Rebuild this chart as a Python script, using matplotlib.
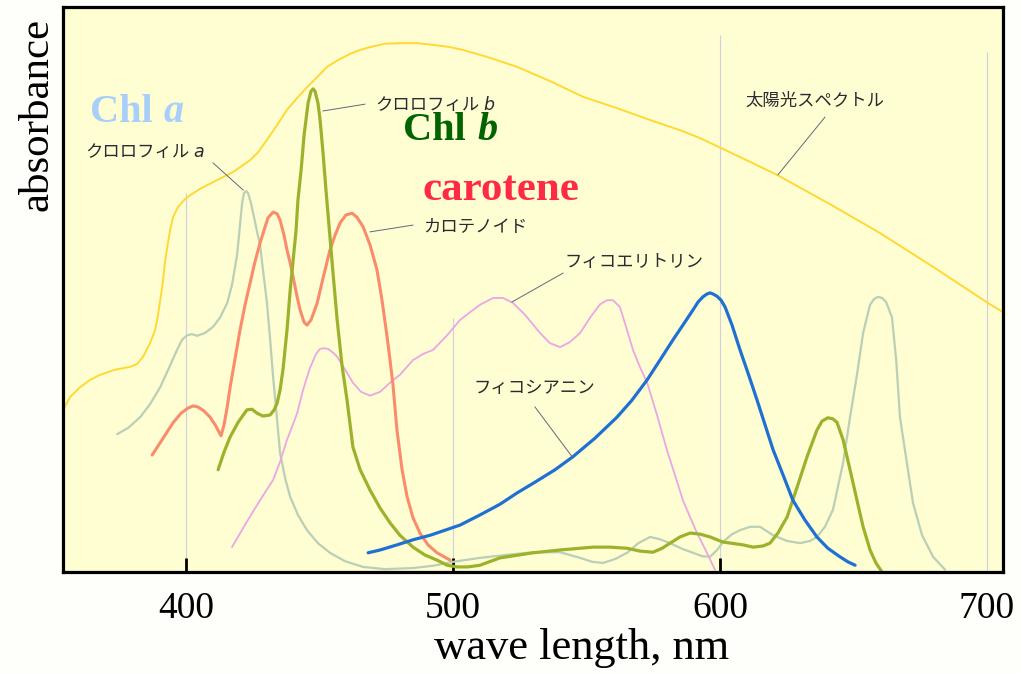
import matplotlib
matplotlib.use('Agg')
import matplotlib.pyplot as plt

plt.rcParams['font.family'] = ['Liberation Serif', 'DejaVu Serif']
JP = ['Noto Sans CJK JP', 'DejaVu Sans']

# wavelength (nm) and relative absorbance (0-100)

sun_wl = [353.9, 356.6, 360.3, 364.0, 367.8, 373.4, 379.0, 381.6, 383.9, 386.5, 388.4,
          389.5, 390.6, 391.4, 392.1, 392.9, 394.0, 395.1, 397.0, 399.6, 402.2, 405.2,
          410.1, 413.9, 417.6, 421.3, 424.0, 427.0, 430.3, 434.1, 437.8, 441.6, 445.3,
          449.1, 452.8, 456.9, 461.4, 465.2, 468.9, 474.5, 480.1, 486.5, 492.5, 498.9,
          503.7, 513.9, 524.0, 536.3, 548.7, 561.4, 573.8, 585.0, 592.5, 601.9, 611.2,
          621.3, 641.2, 659.9, 680.5, 700.4, 706.0]
sun_ab = [28.7, 31.0, 32.7, 34.0, 34.9, 35.8, 36.3, 36.8, 38.1, 40.5, 42.8,
          45.5, 49.0, 51.7, 54.9, 57.3, 60.5, 62.8, 64.6, 66.0, 66.9, 67.8,
          69.0, 69.9, 70.8, 72.0, 72.9, 74.3, 76.5, 79.1, 81.8, 83.9, 85.8,
          87.6, 89.4, 90.6, 91.7, 92.4, 92.9, 93.5, 93.6, 93.6, 93.3, 92.9,
          92.4, 91.0, 89.4, 86.9, 84.1, 82.1, 80.0, 78.2, 76.8, 74.7, 72.6,
          70.3, 65.1, 60.0, 53.8, 47.6, 46.0]

chla_wl = [374.2, 378.3, 382.8, 386.5, 390.3, 393.3, 396.6, 398.5, 400.4, 402.2, 404.1,
           407.1, 410.1, 412.7, 415.4, 417.2, 419.1, 420.2, 421.0, 421.7, 422.5, 423.2,
           424.3, 425.5, 426.6, 427.7, 428.8, 430.3, 431.5, 432.6, 434.1, 435.2, 437.1,
           439.0, 441.9, 445.3, 449.4, 453.9, 459.6, 466.3, 474.5, 485.0, 492.5, 500.0,
           510.1, 519.5, 530.0, 540.1, 543.8, 547.6, 552.1, 556.2, 560.7, 565.2, 569.4,
           573.8, 577.5, 581.3, 585.8, 589.9, 593.3, 596.3, 598.9, 601.1, 604.5, 607.5,
           611.2, 615.0, 619.9, 625.1, 630.0, 633.7, 636.3, 639.3, 642.3, 646.1, 648.7,
           651.3, 653.6, 656.2, 657.7, 659.2, 660.7, 662.2, 664.4, 666.0, 667.4, 670.0,
           672.3, 675.7, 679.8, 684.3]
chla_ab = [24.4, 25.5, 27.4, 29.7, 32.7, 35.8, 39.3, 41.1, 41.9, 42.1, 41.8,
           42.3, 43.4, 45.0, 47.6, 50.8, 56.1, 61.4, 65.3, 67.1, 67.4, 67.1,
           65.3, 62.7, 60.2, 57.9, 53.5, 47.6, 41.1, 34.5, 26.9, 21.1, 16.6,
           13.3, 10.1, 7.4, 5.1, 3.4, 1.9, 0.9, 0.5, 0.7, 1.1, 1.8,
           2.5, 3.0, 3.5, 3.5, 3.0, 2.5, 1.8, 1.6, 2.3, 3.4, 5.1,
           6.2, 5.8, 5.1, 4.1, 3.4, 2.8, 2.7, 3.9, 5.3, 6.7, 7.4,
           8.0, 8.0, 6.5, 5.5, 5.1, 5.5, 6.2, 8.0, 11.0, 19.3, 27.4,
           34.9, 42.3, 47.3, 48.3, 48.7, 48.5, 47.8, 45.1, 37.5, 27.4, 19.3,
           12.2, 6.5, 2.7, 0.4]

chlb_wl = [412.0, 414.2, 416.5, 419.5, 422.8, 424.7, 426.6, 428.8, 431.5, 433.0, 434.1,
           435.2, 436.3, 437.8, 439.0, 440.1, 441.2, 441.9, 443.1, 444.2, 445.7, 446.8,
           447.6, 448.3, 449.4, 450.2, 451.3, 452.4, 453.9, 455.1, 456.6, 458.4, 460.3,
           462.5, 465.2, 468.9, 472.7, 476.4, 480.1, 485.0, 489.5, 494.0, 497.8, 501.5,
           505.6, 510.1, 517.6, 530.0, 540.1, 552.4, 558.8, 565.2, 570.0, 574.9, 578.3,
           581.3, 585.0, 588.8, 592.5, 596.3, 601.1, 605.6, 608.6, 612.4, 616.1, 618.7,
           621.7, 625.1, 628.8, 632.6, 636.3, 638.2, 640.4, 642.3, 643.8, 646.1, 648.7,
           651.3, 653.6, 656.2, 658.4, 660.7]
chlb_ab = [18.1, 21.2, 23.9, 26.5, 28.7, 28.8, 28.1, 27.6, 27.8, 28.7, 29.9,
           32.2, 35.8, 42.8, 49.9, 55.2, 60.5, 65.8, 71.2, 77.3, 83.0, 85.1,
           85.5, 85.1, 83.0, 80.0, 74.2, 67.6, 59.3, 52.6, 44.6, 36.6, 30.4,
           22.1, 18.1, 14.5, 11.3, 8.7, 6.5, 4.4, 3.0, 2.1, 1.2, 0.9,
           0.9, 1.2, 2.5, 3.4, 3.9, 4.4, 4.4, 4.2, 3.7, 3.5, 4.2,
           5.1, 6.2, 6.9, 6.7, 6.2, 5.3, 5.0, 4.8, 4.4, 4.6, 5.1,
           6.9, 9.7, 14.9, 20.4, 25.1, 26.7, 27.3, 27.1, 26.5, 23.4, 18.1,
           12.7, 8.0, 3.9, 1.6, 0.0]

car_wl = [387.3, 391.0, 395.1, 398.1, 400.7, 402.6, 404.5, 406.7, 409.0, 411.2, 413.1,
          414.2, 415.4, 416.5, 418.4, 420.2, 422.1, 424.0, 425.8, 427.7, 429.2, 430.7,
          432.6, 434.1, 435.2, 436.7, 437.8, 439.0, 440.1, 441.6, 442.7, 444.2, 445.3,
          446.8, 447.9, 449.1, 451.3, 453.9, 455.8, 457.7, 459.9, 462.2, 464.0, 466.3,
          468.9, 471.5, 473.4, 475.3, 476.4, 477.5, 479.0, 480.9, 482.8, 485.0, 487.6,
          490.6, 494.0, 498.9]
car_ab = [20.7, 23.4, 26.4, 28.1, 29.0, 29.4, 29.2, 28.5, 27.4, 25.8, 24.1,
          26.0, 29.2, 32.7, 37.9, 42.8, 47.3, 51.2, 54.9, 58.2, 60.5, 62.7,
          63.7, 63.4, 62.3, 59.6, 57.0, 54.7, 52.2, 48.7, 46.4, 44.2, 43.7,
          44.6, 46.0, 47.6, 52.0, 57.0, 59.6, 61.8, 63.2, 63.5, 62.8, 61.1,
          57.9, 53.5, 48.1, 41.6, 37.5, 33.1, 25.1, 18.1, 13.3, 9.6, 6.9,
          4.8, 3.4, 2.1]

pe_wl = [417.2, 422.5, 427.7, 432.6, 435.2, 437.8, 439.7, 441.6, 443.8, 446.4, 448.7,
         450.2, 451.3, 453.2, 455.1, 456.6, 459.6, 462.5, 465.5, 468.9, 472.7, 476.4,
         480.1, 485.0, 488.8, 492.5, 497.8, 502.6, 506.4, 510.1, 515.0, 518.7, 522.5,
         527.0, 532.6, 536.3, 540.1, 543.8, 547.6, 551.3, 555.1, 557.7, 559.9, 562.5,
         564.8, 567.4, 570.0, 572.7, 576.4, 580.1, 583.1, 586.1, 588.8, 591.4, 595.1,
         598.1]
pe_ab = [4.4, 8.7, 12.7, 16.3, 19.5, 23.4, 25.7, 28.1, 32.2, 36.1, 38.6,
         39.5, 39.6, 39.5, 38.8, 38.1, 35.8, 33.5, 31.9, 31.2, 31.9, 33.5,
         34.9, 37.5, 38.6, 39.3, 41.9, 44.6, 46.0, 47.3, 48.5, 48.5, 47.6,
         45.5, 42.3, 40.5, 39.8, 40.7, 42.3, 45.0, 47.4, 48.1, 48.1, 46.9,
         43.4, 39.3, 36.3, 33.5, 27.8, 21.6, 17.2, 12.7, 9.7, 6.9, 3.4,
         0.4]

pc_wl = [468.2, 472.7, 479.0, 485.0, 491.4, 497.0, 502.6, 510.1, 517.6, 524.0, 530.7,
         538.2, 544.9, 553.2, 561.4, 567.0, 572.7, 577.5, 582.4, 586.1, 589.9, 591.8,
         593.6, 595.1, 596.3, 597.4, 598.9, 600.4, 601.9, 604.5, 607.5, 610.5, 613.9,
         616.9, 619.9, 623.6, 627.3, 631.8, 636.3, 640.4, 644.9, 647.9, 650.6]
pc_ab = [3.4, 3.9, 4.8, 5.7, 6.5, 7.4, 8.3, 10.1, 12.0, 14.0, 15.9,
         18.1, 20.4, 23.7, 27.4, 30.4, 34.0, 37.5, 41.1, 43.7, 46.4, 47.8,
         48.7, 49.2, 49.4, 49.2, 48.8, 48.1, 46.9, 43.7, 39.3, 35.2, 30.4,
         26.0, 21.6, 17.2, 12.7, 9.2, 6.2, 4.2, 2.7, 1.8, 1.2]

ticks = [400, 500, 600, 700]

fig = plt.figure(figsize=(10.21, 6.73), dpi=100, facecolor='#fefefa')
ax = fig.add_axes([63 / 1021, 1 - 572 / 673, 940 / 1021, 565 / 673])
ax.set_facecolor('#fffdd2')

# faint guide lines of the original drawing
ax.vlines(ticks, 0, [67, 45, 95, 92], colors='#cfcfe0', lw=0.8, zorder=1)

style = dict(solid_capstyle='round', solid_joinstyle='round')
ax.plot(sun_wl, sun_ab, color='#ffd933', lw=1.4, **style)
ax.plot(chla_wl, chla_ab, color='#b9cfb6', lw=1.6, **style)
ax.plot(pe_wl, pe_ab, color='#eaa6e6', lw=1.3, **style)
ax.plot(car_wl, car_ab, color='#f98c6c', lw=2.2, **style)
ax.plot(chlb_wl, chlb_ab, color='#9db22c', lw=2.3, **style)
ax.plot(pc_wl, pc_ab, color='#1f70d2', lw=2.3, **style)

ax.set_xlim(353.9, 706.0)
ax.set_ylim(0, 100)
ax.set_yticks([])
ax.set_xticks(ticks)
ax.set_xticklabels([str(t) for t in ticks], fontsize=27)
ax.tick_params(axis='x', direction='in', length=10, width=2, pad=14)
ax.xaxis.get_major_ticks()[3].tick1line.set_visible(False)
for sp in ax.spines.values():
    sp.set_linewidth(2.3)

# labels with leader lines
lead = dict(color='#66667a', lw=0.7)
ax.plot([410.1, 421.4], [72.4, 67.6], **lead)
ax.plot([451.3, 467.0], [81.6, 82.8], **lead)
ax.plot([468.9, 485.0], [60.2, 61.4], **lead)
ax.plot([522.1, 541.2], [47.8, 52.9], **lead)
ax.plot([530.7, 544.6], [29.2, 20.4], **lead)
ax.plot([639.3, 621.7], [80.5, 70.3], **lead)

jp = dict(family=JP, fontsize=12.5, color='#2a2a30', va='center', ha='left')
t = ax.text(362.2, 74.3, 'クロロフィル', **jp)
ax.annotate('a', xy=(1, 0), xycoords=t, xytext=(3, 0), textcoords='offset points',
            family=['DejaVu Sans'], style='italic', fontsize=12.5, color='#2a2a30',
            va='bottom')
t = ax.text(470.8, 82.7, 'クロロフィル', **jp)
ax.annotate('b', xy=(1, 0), xycoords=t, xytext=(3, 0), textcoords='offset points',
            family=['DejaVu Sans'], style='italic', fontsize=12.5, color='#2a2a30',
            va='bottom')
ax.text(488.8, 61.2, 'カロテノイド', **jp)
ax.text(541.9, 54.9, 'フィコエリトリン', **jp)
ax.text(507.5, 32.6, 'フィコシアニン', **jp)
ax.text(609.4, 83.4, '太陽光スペクトル', **jp)

# big coloured names
t = ax.text(364.0, 79.6, 'Chl', fontsize=29, weight='bold', color='#a8cff9', va='baseline')
ax.annotate('a', xy=(1, 0), xycoords=t, xytext=(8, 0), textcoords='offset points',
            fontsize=29, weight='bold', style='italic', color='#a8cff9', va='bottom')
t = ax.text(481.3, 76.5, 'Chl', fontsize=29, weight='bold', color='#006400', va='baseline')
ax.annotate('b', xy=(1, 0), xycoords=t, xytext=(8, 0), textcoords='offset points',
            fontsize=29, weight='bold', style='italic', color='#006400', va='bottom')
ax.text(488.4, 65.8, 'carotene', fontsize=31, weight='bold', color='#ff2a45', va='baseline')

fig.text(582 / 1021, 1 - 648 / 673, 'wave length, nm', fontsize=32, ha='center', va='center')
fig.text(37 / 1021, 1 - 114 / 673, 'absorbance', fontsize=31, rotation=90,
         ha='center', va='center')

fig.savefig('out.png', dpi=100, facecolor=fig.get_facecolor())
